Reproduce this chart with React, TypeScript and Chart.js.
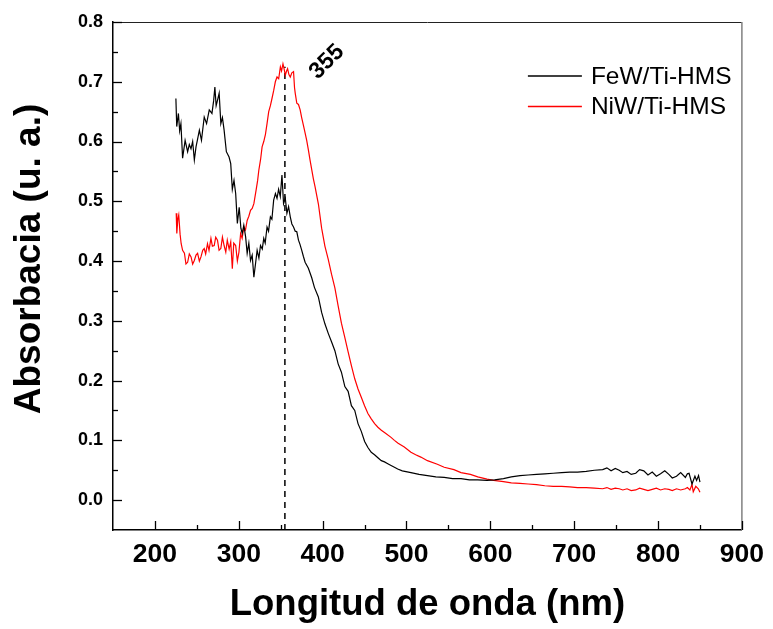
import { useEffect, useRef } from "react";
import { Chart, registerables } from "chart.js";

Chart.register(...registerables);

// ---------- data ----------
const seriesLabels = ["FeW/Ti-HMS", "NiW/Ti-HMS"];
const seriesColors = ["#000000", "#ff0000"];

const fewWavelength = [
  225, 226, 228, 229.5, 231, 233, 236, 239, 241, 243, 245, 247, 249, 251, 253, 255.5, 258.8, 261.6, 264.8, 268,
  270, 271.5, 273, 274.6, 276.6, 278.6, 280.5, 282.5, 285.2, 288.4, 290.4, 292.3, 294.3, 296.3, 298.3, 300.5, 302.5, 304.1, 306, 308.2,
  310, 312, 314, 316, 318, 320, 321.9, 324, 325.9, 328, 329.8, 331.5, 333.7, 335.5, 337.7, 339.5, 341.6, 343.7, 345.6, 347.5,
  349.5, 351.5, 353.4, 355.5, 357.4, 359.4, 361.4, 363.3, 365.3, 367.3, 369.2, 371.2, 373, 375.1, 377, 379.1, 383, 387, 390.2, 394.9,
  398.8, 402.7, 406.7, 410.6, 414.6, 418.5, 422.4, 426.5, 430.4, 434.3, 438.3, 442.2, 446.1, 450.1, 454, 458, 461.9, 465.9, 470, 473.8,
  477.7, 481.6, 485.6, 489.5, 495, 505.3, 515, 525, 535, 545, 555, 565, 575, 585, 596, 605, 615.7, 625, 635.4, 645,
  655.1, 665, 674.9, 685, 694.6, 704, 714.3, 724, 734, 739, 744, 749, 753.7, 758, 763, 768, 773.4, 778, 783, 788,
  793.1, 798, 803, 808, 812.9, 817, 822, 827, 832.6, 835, 837, 840.5, 844, 846, 848.3, 850,
];
const fewAbsorbance = [
  0.672, 0.625, 0.647, 0.618, 0.63, 0.572, 0.602, 0.583, 0.595, 0.588, 0.6, 0.569, 0.591, 0.605, 0.619, 0.602, 0.641, 0.63, 0.653, 0.647,
  0.668, 0.691, 0.66, 0.669, 0.681, 0.63, 0.64, 0.619, 0.583, 0.574, 0.563, 0.52, 0.535, 0.513, 0.463, 0.49, 0.455, 0.446, 0.46, 0.44,
  0.413, 0.43, 0.401, 0.41, 0.373, 0.396, 0.418, 0.405, 0.426, 0.42, 0.438, 0.43, 0.457, 0.45, 0.474, 0.47, 0.502, 0.513, 0.505, 0.52,
  0.508, 0.544, 0.496, 0.505, 0.48, 0.491, 0.474, 0.462, 0.457, 0.45, 0.449, 0.435, 0.428, 0.418, 0.408, 0.398, 0.388, 0.372, 0.356, 0.34,
  0.314, 0.295, 0.279, 0.265, 0.25, 0.228, 0.214, 0.19, 0.182, 0.158, 0.15, 0.128, 0.115, 0.098, 0.088, 0.08, 0.076, 0.071, 0.066, 0.064,
  0.061, 0.058, 0.055, 0.052, 0.049, 0.046, 0.043, 0.041, 0.039, 0.038, 0.036, 0.036, 0.034, 0.034, 0.033, 0.034, 0.036, 0.039, 0.041, 0.042,
  0.043, 0.044, 0.045, 0.046, 0.047, 0.047, 0.048, 0.05, 0.051, 0.054, 0.049, 0.053, 0.05, 0.046, 0.048, 0.043, 0.045, 0.051, 0.049, 0.042,
  0.047, 0.04, 0.044, 0.049, 0.043, 0.037, 0.04, 0.046, 0.038, 0.044, 0.045, 0.027, 0.04, 0.033, 0.041, 0.03,
];

const niwWavelength = [
  225.4, 226.1, 227.3, 228.4, 230, 231.3, 233, 235.2, 237, 239, 241, 243.1, 245, 247, 249, 250.9, 253, 254.9, 257, 258.8,
  260.5, 262.7, 264.5, 266.8, 268.5, 270.7, 272.5, 274.6, 276.5, 278.6, 280.5, 282.5, 284.5, 286.3, 288.5, 290.4, 292.3, 294, 296.3, 298.3,
  300.2, 302.2, 304, 306.1, 308, 310, 312, 314, 316, 318, 320.7, 322.5, 323.9, 326, 327.8, 329.8, 331.8, 333.7, 335.7, 337.7,
  339.6, 341.6, 343.6, 345.6, 347.6, 349.6, 351, 352.7, 354, 355.5, 357, 358.2, 359.8, 361.4, 363.3, 365.3, 366.5, 367.3, 369.2, 371.2,
  373.2, 375, 377.1, 379, 381, 383, 385, 387, 388.9, 391, 395, 398.8, 402.7, 406.7, 410.6, 414.6, 418.5, 422.4, 426.5, 430.4,
  434.3, 438.3, 442.2, 446.1, 450, 454, 458, 462, 465.9, 470, 475, 481.6, 485.6, 490, 497.4, 505.3, 511, 517.1, 525, 536.8,
  545, 556.6, 565, 576.2, 585, 596, 604, 615.7, 625, 635.4, 645, 655.1, 665, 674.9, 685, 694.6, 704, 714.3, 724, 734,
  739, 744, 749, 753.7, 758, 763, 768, 773.4, 778, 783, 788, 793.1, 798, 803, 808, 812.9, 817, 822, 827, 832.6,
  835, 838, 840.5, 842, 845, 848, 850,
];
const niwAbsorbance = [
  0.48, 0.446, 0.47, 0.477, 0.445, 0.429, 0.418, 0.413, 0.395, 0.398, 0.412, 0.407, 0.395, 0.401, 0.41, 0.413, 0.4, 0.407, 0.418, 0.421,
  0.412, 0.429, 0.418, 0.438, 0.425, 0.426, 0.44, 0.435, 0.418, 0.421, 0.44, 0.426, 0.415, 0.435, 0.42, 0.432, 0.387, 0.43, 0.426, 0.4,
  0.415, 0.446, 0.438, 0.457, 0.452, 0.468, 0.475, 0.485, 0.488, 0.496, 0.519, 0.535, 0.552, 0.57, 0.591, 0.6, 0.612, 0.63, 0.65, 0.66,
  0.672, 0.685, 0.7, 0.708, 0.705, 0.725, 0.718, 0.73, 0.722, 0.711, 0.718, 0.722, 0.712, 0.708, 0.715, 0.717, 0.69, 0.681, 0.664, 0.662,
  0.653, 0.64, 0.627, 0.615, 0.602, 0.586, 0.569, 0.553, 0.538, 0.524, 0.495, 0.455, 0.425, 0.403, 0.378, 0.355, 0.325, 0.296, 0.272, 0.248,
  0.225, 0.203, 0.186, 0.172, 0.158, 0.145, 0.136, 0.128, 0.122, 0.117, 0.112, 0.105, 0.1, 0.095, 0.089, 0.08, 0.076, 0.072, 0.066, 0.06,
  0.055, 0.051, 0.046, 0.043, 0.039, 0.035, 0.033, 0.031, 0.029, 0.028, 0.027, 0.026, 0.024, 0.023, 0.023, 0.022, 0.021, 0.021, 0.02, 0.019,
  0.021, 0.018, 0.02, 0.019, 0.017, 0.019, 0.016, 0.017, 0.02, 0.018, 0.016, 0.018, 0.02, 0.017, 0.019, 0.018, 0.016, 0.019, 0.017, 0.019,
  0.021, 0.017, 0.026, 0.014, 0.023, 0.019, 0.013,
];

const peakWavelength = 355;
const peakLineRange = [-0.05, 0.725];
const peakLabel = "355";

const xTickValues = [200, 300, 400, 500, 600, 700, 800, 900];
const xMinorValues = [250, 350, 450, 550, 650, 750, 850];
const yTickValues = [0, 0.1, 0.2, 0.3, 0.4, 0.5, 0.6, 0.7, 0.8];
const yMinorValues = [0.05, 0.15, 0.25, 0.35, 0.45, 0.55, 0.65, 0.75];

const xTitle = "Longitud de onda (nm)";
const yTitle = "Absorbacia (u. a.)";

const FONT = "'Liberation Sans', Arial, Helvetica, sans-serif";

const toPoints = (xs: number[], ys: number[]) => xs.map((x, i) => ({ x, y: ys[i] }));

const decorPlugin = {
  id: "decor",
  afterDraw(chart: any) {
    const { ctx, chartArea, scales } = chart;
    const xs = scales.x;
    const ys = scales.y;
    ctx.save();
    // top & right frame
    ctx.lineWidth = 1;
    ctx.strokeStyle = "#222";
    ctx.beginPath();
    ctx.moveTo(chartArea.left, chartArea.top + 0.5);
    ctx.lineTo(chartArea.right, chartArea.top + 0.5);
    ctx.stroke();
    ctx.strokeStyle = "#808080";
    ctx.lineWidth = 1.5;
    ctx.beginPath();
    ctx.moveTo(chartArea.right, chartArea.top);
    ctx.lineTo(chartArea.right, chartArea.bottom);
    ctx.stroke();

    // inward ticks
    ctx.strokeStyle = "#000";
    ctx.lineWidth = 1.3;
    const xTick = (v: number, len: number) => {
      const px = Math.round(xs.getPixelForValue(v)) + 0.5;
      ctx.beginPath();
      ctx.moveTo(px, chartArea.bottom);
      ctx.lineTo(px, chartArea.bottom - len);
      ctx.stroke();
    };
    const yTick = (v: number, len: number) => {
      const py = Math.round(ys.getPixelForValue(v)) + 0.5;
      ctx.beginPath();
      ctx.moveTo(chartArea.left, py);
      ctx.lineTo(chartArea.left + len, py);
      ctx.stroke();
    };
    xTickValues.forEach((v) => xTick(v, 9));
    xMinorValues.forEach((v) => xTick(v, 5));
    yTickValues.forEach((v) => yTick(v, 9));
    yMinorValues.forEach((v) => yTick(v, 5));
    ctx.restore();

    // y axis title (rotated), slightly above the axis centre as in the reference
    ctx.save();
    ctx.translate(30, (chartArea.top + chartArea.bottom) / 2 - 17);
    ctx.rotate(-Math.PI / 2);
    ctx.font = `bold 37px ${FONT}`;
    ctx.fillStyle = "#000";
    ctx.textAlign = "center";
    ctx.textBaseline = "middle";
    ctx.fillText(yTitle, 0, 0);
    ctx.restore();

    // peak label, rotated
    ctx.save();
    const lx = xs.getPixelForValue(peakWavelength) + 42;
    const ly = ys.getPixelForValue(peakLineRange[1]) - 5;
    ctx.translate(lx, ly);
    ctx.rotate(-Math.PI / 4);
    ctx.font = `bold 23px ${FONT}`;
    ctx.fillStyle = "#000";
    ctx.textAlign = "center";
    ctx.textBaseline = "middle";
    ctx.fillText(peakLabel, 0, 0);
    ctx.restore();

    // legend
    ctx.save();
    ctx.font = `24.5px ${FONT}`;
    ctx.textBaseline = "middle";
    ctx.textAlign = "left";
    const lx0 = chartArea.right - 214;
    seriesLabels.forEach((label, i) => {
      const y = chartArea.top + 54 + i * 30.5;
      ctx.strokeStyle = seriesColors[i];
      ctx.lineWidth = 1.3;
      ctx.beginPath();
      ctx.moveTo(lx0, y);
      ctx.lineTo(lx0 + 54, y);
      ctx.stroke();
      ctx.fillStyle = "#000";
      ctx.fillText(label, lx0 + 63, y + 1);
    });
    ctx.restore();
  },
};

export default function App() {
  const canvasRef = useRef<HTMLCanvasElement | null>(null);

  useEffect(() => {
    const canvas = canvasRef.current;
    if (!canvas) return;
    const chart = new Chart(canvas, {
      type: "line",
      data: {
        datasets: [
          {
            label: seriesLabels[0],
            data: toPoints(fewWavelength, fewAbsorbance),
            borderColor: seriesColors[0],
            borderWidth: 1.2,
            pointRadius: 0,
            tension: 0,
          },
          {
            label: seriesLabels[1],
            data: toPoints(niwWavelength, niwAbsorbance),
            borderColor: seriesColors[1],
            borderWidth: 1.2,
            pointRadius: 0,
            tension: 0,
          },
          {
            label: "peak",
            data: toPoints([peakWavelength, peakWavelength], peakLineRange),
            borderColor: "#000",
            borderWidth: 1.5,
            borderDash: [6, 5],
            pointRadius: 0,
          },
        ],
      },
      options: {
        animation: false,
        responsive: false,
        devicePixelRatio: 1,
        layout: { padding: { top: 22, right: 26, left: 0, bottom: 0 } },
        plugins: { legend: { display: false }, tooltip: { enabled: false } },
        scales: {
          x: {
            type: "linear",
            min: 150,
            max: 900,
            afterBuildTicks: (s: any) => {
              s.ticks = xTickValues.map((value) => ({ value }));
            },
            afterFit: (s: any) => {
              s.height = 99;
            },
            grid: { display: false, drawTicks: false },
            border: { display: true, color: "#000", width: 1.5 },
            ticks: {
              color: "#000",
              padding: 9,
              maxRotation: 0,
              font: { family: FONT, size: 26.5, weight: "bold" },
            },
            title: {
              display: true,
              text: xTitle,
              color: "#000",
              padding: { top: 0, bottom: 2 },
              font: { family: FONT, size: 36.5, weight: "bold" },
            },
          },
          y: {
            type: "linear",
            min: -0.05,
            max: 0.8,
            afterBuildTicks: (s: any) => {
              s.ticks = yTickValues.map((value) => ({ value }));
            },
            afterFit: (s: any) => {
              s.width = 113;
            },
            grid: { display: false, drawTicks: false },
            border: { display: true, color: "#000", width: 1.5 },
            ticks: {
              color: "#000",
              padding: 10,
              callback: (v: any) => Number(v).toFixed(1),
              font: { family: FONT, size: 18, weight: "bold" },
            },
            title: { display: false, text: yTitle },
          },
        },
      },
      plugins: [decorPlugin],
    } as any);
    return () => chart.destroy();
  }, []);

  return (
    <div style={{ position: "fixed", left: 0, top: 0, width: 773, height: 629, background: "#fff" }}>
      <canvas ref={canvasRef} width={773} height={629} style={{ display: "block" }} />
    </div>
  );
}
